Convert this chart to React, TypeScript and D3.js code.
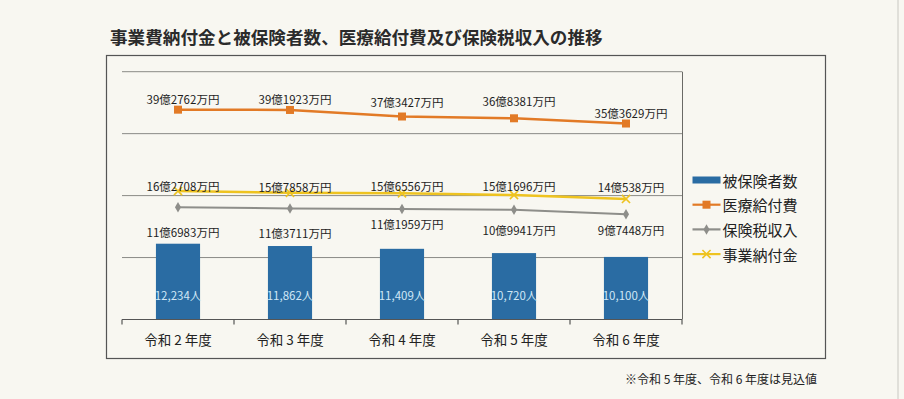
import React, { useRef, useEffect } from "react";
import * as d3 from "d3";

// 年度
const years = ["令和 2 年度", "令和 3 年度", "令和 4 年度", "令和 5 年度", "令和 6 年度"];
// 被保険者数 (人)
const insured = [12234, 11862, 11409, 10720, 10100];
// 医療給付費 (万円)
const medical = [392762, 391923, 373427, 368381, 353629];
// 保険税収入 (万円)
const taxIncome = [116983, 113711, 111959, 109941, 97448];
// 事業納付金 (万円)
const levy = [162708, 157858, 156556, 151696, 140538];

// label nudges (the original labels were moved by hand)
const medicalLabelDy = [-11, -10.5, -15, -17, -11];
const levyLabelDy = [-5, -6, -7, -9, -12];
const taxLabelDy = [25, 24.5, 15, 20, 16];

const FONT = "'Noto Sans CJK JP', 'Noto Sans', sans-serif";
const W = 904, H = 399;

const fmtYen = (v: number) => `${Math.floor(v / 10000)}億${v % 10000}万円`;
const fmtPeople = (v: number) => d3.format(",")(v) + "人";

export default function App() {
  const svgRef = useRef<SVGSVGElement>(null);

  useEffect(() => {
    document.body.style.margin = "0";
    const svg = d3.select(svgRef.current);
    svg.selectAll("*").remove();

    const left = 122, right = 682, top = 71.7, bottom = 319.5;

    const x = d3.scaleBand<string>()
      .domain(years)
      .range([left, right])
      .paddingInner(0.606)
      .paddingOuter(0.303);
    const cx = (i: number) => x(years[i])! + x.bandwidth() / 2;

    // money axis (hidden) and people axis (right, no labels)
    const yMoney = d3.scaleLinear().domain([-200000, 500000]).range([bottom, top]);
    const yPeople = d3.scaleLinear().domain([0, 40000]).range([bottom, top]);

    svg.append("rect").attr("width", W).attr("height", H).attr("fill", "#f8f7f1");
    svg.append("line").attr("x1", 898).attr("x2", 898).attr("y1", 0).attr("y2", H)
      .attr("stroke", "#c9c8c2").attr("stroke-width", 1);

    // title
    svg.append("text")
      .attr("x", 110).attr("y", 36)
      .attr("dominant-baseline", "central")
      .attr("font-family", FONT).attr("font-size", 17.6).attr("font-weight", 700)
      .attr("fill", "#2b2b2b")
      .text("事業費納付金と被保険者数、医療給付費及び保険税収入の推移");

    // outer frame
    svg.append("rect")
      .attr("x", 106.5).attr("y", 55.5).attr("width", 719).attr("height", 303)
      .attr("fill", "none").attr("stroke", "#555").attr("stroke-width", 1.2);

    // gridlines
    const g = svg.append("g");
    g.selectAll(".grid")
      .data(yPeople.ticks(4).filter(t => t > 0))
      .join("line")
      .attr("x1", left).attr("x2", right)
      .attr("y1", d => yPeople(d)).attr("y2", d => yPeople(d))
      .attr("stroke", "#8a8a86").attr("stroke-width", 1);

    // right axis line
    g.append("line")
      .attr("x1", right + 0.5).attr("x2", right + 0.5)
      .attr("y1", top).attr("y2", bottom)
      .attr("stroke", "#6a6a66").attr("stroke-width", 1);

    // bars
    g.selectAll(".bar")
      .data(insured)
      .join("rect")
      .attr("x", (_, i) => x(years[i])!)
      .attr("width", x.bandwidth())
      .attr("y", d => yPeople(d))
      .attr("height", d => bottom - yPeople(d))
      .attr("fill", "#2a6ca3");

    g.selectAll(".barlabel")
      .data(insured)
      .join("text")
      .attr("x", (_, i) => cx(i))
      .attr("y", 294.5)
      .attr("text-anchor", "middle").attr("dominant-baseline", "central")
      .attr("font-family", FONT).attr("font-size", 11.5)
      .attr("fill", "#cfe7f6")
      .text(d => fmtPeople(d));

    // x axis
    g.append("line")
      .attr("x1", left).attr("x2", right)
      .attr("y1", bottom).attr("y2", bottom)
      .attr("stroke", "#555").attr("stroke-width", 1.2);
    const tickXs = d3.range(years.length + 1).map(i => left + i * x.step());
    g.selectAll(".tick")
      .data(tickXs)
      .join("line")
      .attr("x1", d => d).attr("x2", d => d)
      .attr("y1", bottom).attr("y2", bottom + 5)
      .attr("stroke", "#555").attr("stroke-width", 1.2);
    g.selectAll(".xlabel")
      .data(years)
      .join("text")
      .attr("x", (_, i) => cx(i))
      .attr("y", 339)
      .attr("text-anchor", "middle").attr("dominant-baseline", "central")
      .attr("font-family", FONT).attr("font-size", 13.5)
      .attr("fill", "#222")
      .text(d => d);

    const series = [
      { values: levy, color: "#eec320", width: 2.5, marker: "x", dy: levyLabelDy },
      { values: taxIncome, color: "#8e8e8a", width: 2, marker: "diamond", dy: taxLabelDy },
      { values: medical, color: "#e27a26", width: 2.5, marker: "square", dy: medicalLabelDy },
    ];

    const line = d3.line<number>()
      .x((_, i) => cx(i))
      .y(d => yMoney(d));

    const drawMarker = (sel: any, kind: string, color: string, px: number, py: number) => {
      if (kind === "square") {
        sel.append("rect").attr("x", px - 4).attr("y", py - 4).attr("width", 8).attr("height", 8)
          .attr("fill", color);
      } else if (kind === "diamond") {
        sel.append("path").attr("d", d3.symbol().type(d3.symbolDiamond).size(32)())
          .attr("transform", `translate(${px},${py})`).attr("fill", color);
      } else {
        sel.append("path").attr("d", d3.symbol().type(d3.symbolX).size(45)())
          .attr("transform", `translate(${px},${py})`)
          .attr("fill", "none").attr("stroke", color).attr("stroke-width", 1.6);
      }
    };

    series.forEach(s => {
      g.append("path")
        .attr("d", line(s.values))
        .attr("fill", "none")
        .attr("stroke", s.color)
        .attr("stroke-width", s.width);
      s.values.forEach((v, i) => drawMarker(g, s.marker, s.color, cx(i), yMoney(v)));
    });

    series.forEach(s => {
      g.selectAll(null)
        .data(s.values)
        .join("text")
        .attr("x", (_, i) => cx(i) + 5)
        .attr("y", (d, i) => yMoney(d) + s.dy[i])
        .attr("text-anchor", "middle").attr("dominant-baseline", "central")
        .attr("font-family", FONT).attr("font-size", 11.5)
        .attr("fill", "#1e1e1e")
        .text(d => fmtYen(d));
    });

    // legend
    const legend = [
      { name: "被保険者数", kind: "bar", color: "#2a6ca3" },
      { name: "医療給付費", kind: "square", color: "#e27a26" },
      { name: "保険税収入", kind: "diamond", color: "#8e8e8a" },
      { name: "事業納付金", kind: "x", color: "#eec320" },
    ];
    const lg = svg.append("g");
    legend.forEach((e, i) => {
      const ly = 180 + i * 24.7;
      if (e.kind === "bar") {
        lg.append("rect").attr("x", 692.5).attr("y", ly - 3.5).attr("width", 28).attr("height", 7)
          .attr("fill", e.color);
      } else {
        lg.append("line").attr("x1", 692.5).attr("x2", 720.5).attr("y1", ly).attr("y2", ly)
          .attr("stroke", e.color).attr("stroke-width", 2.2);
        drawMarker(lg, e.kind, e.color, 706.5, ly);
      }
      lg.append("text")
        .attr("x", 722.5).attr("y", ly)
        .attr("dominant-baseline", "central")
        .attr("font-family", FONT).attr("font-size", 15)
        .attr("fill", "#222")
        .text(e.name);
    });

    // note
    svg.append("text")
      .attr("x", 625).attr("y", 378)
      .attr("dominant-baseline", "central")
      .attr("font-family", FONT).attr("font-size", 12)
      .attr("fill", "#222")
      .text("※令和 5 年度、令和 6 年度は見込値");
  }, []);

  return (
    <svg ref={svgRef} width={W} height={H} style={{ display: "block" }} />
  );
}
